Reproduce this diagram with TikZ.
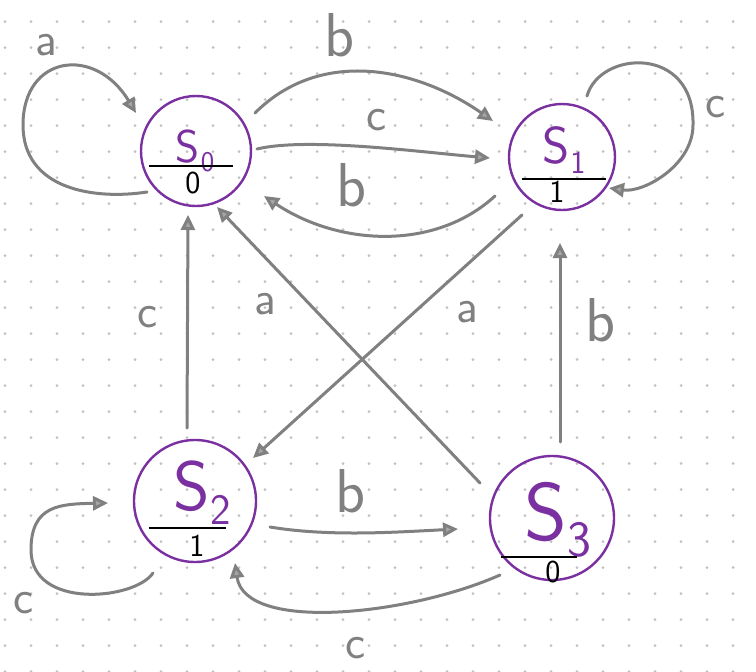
\documentclass[tikz,border=0pt]{standalone}
\usetikzlibrary{arrows.meta}
\definecolor{stpurple}{RGB}{122,48,160}
\definecolor{edgegray}{RGB}{128,128,128}
\definecolor{dotgray}{RGB}{192,192,192}
\newcommand{\stname}[3]{{\fontsize{#1}{#1}\selectfont S\kern1pt\raisebox{-0.2em}{\scalebox{0.62}{#2}}#3}}
\begin{document}
\begin{tikzpicture}[x=1pt,y=-1pt,
  state/.style={circle,draw=stpurple,line width=2.4pt,inner sep=0pt},
  edge/.style={draw=edgegray,line width=3pt,line cap=round,line join=round,
    -{Triangle[length=15pt,width=14pt,fill=edgegray!70]}},
  sepline/.style={draw=black,line width=2.8pt},
  slabel/.style={text=stpurple,font=\sffamily,inner sep=0pt,anchor=base},
  olabel/.style={text=black,font=\sffamily\fontsize{32}{32}\selectfont,inner sep=0pt},
  elabel/.style={text=edgegray,font=\sffamily\fontsize{48}{48}\selectfont,inner sep=0pt},
  blabel/.style={text=edgegray,font=\sffamily\fontsize{62}{62}\selectfont,inner sep=0pt}]
\useasboundingbox (0,0) rectangle (756,672);
\fill[white] (0,0) rectangle (756,672);
% dot grid
\foreach \i in {0,...,28}{
  \foreach \j in {0,...,25}{
    \fill[dotgray] (5+26*\i,21.5+26*\j) circle (1.5pt);
  }
}
% states
\node[state,minimum size=110pt] (s0) at (196,151) {};
\node[state,minimum size=106pt] (s1) at (562,157) {};
\node[state,minimum size=122pt] (s2) at (195,501) {};
\node[state,minimum size=124pt] (s3) at (552,518) {};
% state names
\node[slabel] (n0) at (195,162) {\stname{46}{0}{}};
\node[slabel] (n1) at (564,163) {\stname{52}{1}{}};
\node[slabel] (n2) at (202,510) {\stname{70}{2}{}};
\node[slabel] (n3) at (558,540) {\stname{82}{3}{}};
% separators
\draw[sepline] ([shift={(-47,15)}]s0.center) -- ([shift={(37,15)}]s0.center);
\draw[sepline] ([shift={(-40,22)}]s1.center) -- ([shift={(44,22)}]s1.center);
\draw[sepline] ([shift={(-46,27)}]s2.center) -- ([shift={(31,27)}]s2.center);
\draw[sepline] ([shift={(-51,39)}]s3.center) -- ([shift={(25,39)}]s3.center);
% outputs
\node[olabel] (o0) at (193,183) {0};
\node[olabel] (o1) at (557,192) {1};
\node[olabel] (o2) at (197,546) {1};
\node[olabel] (o3) at (553,572) {0};
% edges
\draw[edge] ([shift={(-49,41)}]s0.center) .. controls +(-52,8) and +(0,65) .. ([shift={(-173,-26)}]s0.center) .. controls +(0,-70) and +(-41,-68) .. ([shift={(-60,-38)}]s0.center);
\draw[edge] ([shift={(59,-38)}]s0.center) .. controls +(66,-66) and +(-76,-53) .. ([shift={(-69,-36)}]s1.center);
\draw[edge] ([shift={(61,-2)}]s0.center) .. controls +(50,-12) and +(-70,-6) .. ([shift={(-72,1)}]s1.center);
\draw[edge] ([shift={(-67,39)}]s1.center) .. controls +(-60,55) and +(75,50) .. ([shift={(68,45)}]s0.center);
\draw[edge] ([shift={(25,-61)}]s1.center) .. controls +(13,-46) and +(2,-80) .. ([shift={(131,-32)}]s1.center) .. controls +(0,40) and +(35,5) .. ([shift={(47,31)}]s1.center);
\draw[edge] ([shift={(-8,-73)}]s2.center) -- ([shift={(-8,64)}]s0.center);
\draw[edge] ([shift={(-72,-35)}]s3.center) -- ([shift={(21,56)}]s0.center);
\draw[edge] ([shift={(-40,58)}]s1.center) -- ([shift={(58,-43)}]s2.center);
\draw[edge] ([shift={(8,-76)}]s3.center) -- ([shift={(-2,86)}]s1.center);
\draw[edge] ([shift={(75,26)}]s2.center) .. controls +(60,10) and +(-60,3) .. ([shift={(-94,11)}]s3.center);
\draw[edge] ([shift={(-52,57)}]s3.center) .. controls +(-90,40) and +(10,70) .. ([shift={(40,62)}]s2.center);
\draw[edge] ([shift={(-42,72)}]s2.center) .. controls +(-18,27) and +(0,60) .. ([shift={(-164,49)}]s2.center) .. controls +(0,-45) and +(-48,1) .. ([shift={(-87,2)}]s2.center);
% edge labels
\node[elabel] (l1) at (46,45) {a};
\node[blabel] (l2) at (340,35) {b};
\node[elabel] (l3) at (377,120) {c};
\node[blabel] (l4) at (352,185) {b};
\node[elabel] (l5) at (716,107) {c};
\node[elabel] (l6) at (148,317) {c};
\node[elabel] (l7) at (265,304) {a};
\node[elabel] (l8) at (467,312) {a};
\node[blabel] (l9) at (600,320) {b};
\node[blabel] (l10) at (351,491) {b};
\node[elabel] (l11) at (356,648) {c};
\node[elabel] (l12) at (24,603) {c};
\end{tikzpicture}
\end{document}
